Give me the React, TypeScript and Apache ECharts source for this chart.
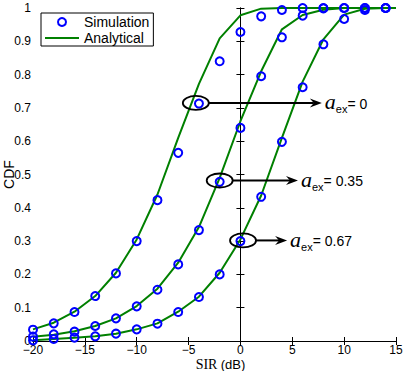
import React, { useEffect, useRef } from "react";
import * as echarts from "echarts";

const simX = [-20, -18, -16, -14, -12, -10, -8, -6, -4, -2, 0, 2, 4, 6, 8, 10, 12, 14];
const sim0 = [0.034, 0.053, 0.087, 0.135, 0.203, 0.3, 0.423, 0.565, 0.713, 0.84, 0.928, 0.975, 0.994, 1.0, 1.0, 1.0, 1.0, 1.0];
const sim1 = [0.013, 0.02, 0.028, 0.045, 0.068, 0.104, 0.154, 0.23, 0.333, 0.478, 0.64, 0.795, 0.912, 0.977, 0.999, 1.0, 1.0, 1.0];
const sim2 = [0.002, 0.006, 0.01, 0.014, 0.022, 0.035, 0.052, 0.087, 0.132, 0.2, 0.3, 0.433, 0.598, 0.762, 0.891, 0.967, 0.994, 1.0];

const lineX = [-20, -18, -16, -14, -12, -10, -8, -6, -4, -2, 0, 2, 4, 6, 8, 10, 12, 14, 15];
const ana0 = [0.035, 0.055, 0.088, 0.135, 0.205, 0.305, 0.44, 0.61, 0.772, 0.909, 0.978, 0.998, 1, 1, 1, 1, 1, 1, 1];
const ana1 = [0.013, 0.019, 0.029, 0.045, 0.068, 0.105, 0.157, 0.235, 0.342, 0.49, 0.66, 0.81, 0.936, 0.979, 0.995, 1, 1, 1, 1];
const ana2 = [0.002, 0.006, 0.01, 0.014, 0.022, 0.035, 0.053, 0.088, 0.133, 0.205, 0.305, 0.437, 0.61, 0.779, 0.906, 0.98, 0.998, 1, 1];

const annX = [-4.3, -2.0, 0.25];
const annY = [0.715, 0.482, 0.302];
const annEndX = [7.85, 5.55, 4.5];
const annLabels = ["0", "0.35", "0.67"];

const SANS = "Liberation Sans, Arial, sans-serif";
const SERIF = "Liberation Serif, Times New Roman, serif";

const pairs = (xs: number[], ys: number[]) => xs.map((x, i) => [x, ys[i]]);

export default function App() {
  const ref = useRef<HTMLDivElement>(null);
  useEffect(() => {
    document.body.style.margin = "0";
    const chart = echarts.init(ref.current!, null, { renderer: "svg" });
    const axisCommon = {
      axisLine: { lineStyle: { color: "#000", width: 1 } },
      axisTick: { inside: true, length: 4, lineStyle: { color: "#000" } },
      splitLine: { show: false },
    };
    const lineSeries = (d: number[]) => ({
      type: "line",
      name: "Analytical",
      data: pairs(lineX, d),
      symbol: "none",
      lineStyle: { color: "#008000", width: 2 },
      itemStyle: { color: "#008000" },
      z: 2,
    });
    const scatterSeries = (d: number[]) => ({
      type: "scatter",
      name: "Simulation",
      data: pairs(simX, d),
      symbol: "circle",
      symbolSize: 8,
      itemStyle: { color: "transparent", borderColor: "#0000ff", borderWidth: 2, opacity: 1 },
      z: 3,
    });
    const option: any = {
      animation: false,
      backgroundColor: "#fff",
      grid: { left: 33, right: 7, top: 8, bottom: 30, containLabel: false, outerBoundsMode: "none" },
      legend: {
        orient: "vertical",
        left: 41,
        top: 13,
        backgroundColor: "#fff",
        borderColor: "#000",
        borderWidth: 1,
        padding: [2, 4, 1, 3],
        itemWidth: 34,
        itemHeight: 8,
        itemGap: 2,
        textStyle: { fontFamily: SANS, fontSize: 14, color: "#000", lineHeight: 14 },
        data: [
          { name: "Simulation", icon: "circle", itemStyle: { color: "transparent", borderColor: "#0000ff", borderWidth: 2 } },
          { name: "Analytical", itemStyle: { opacity: 0 } },
        ],
      },
      xAxis: [
        {
          type: "value",
          min: -20,
          max: 15,
          interval: 5,
          ...axisCommon,
          axisLabel: {
            fontFamily: SANS,
            fontSize: 12,
            lineHeight: 12,
            color: "#000",
            margin: 3,
            formatter: (v: number) => (v < 0 ? "\u2212" + Math.abs(v) : String(v)),
          },
          name: "{s|SIR} {d|(dB)}",
          nameLocation: "middle",
          nameGap: 16,
          nameMoveOverlap: false,
          nameTextStyle: {
            padding: [0, 0, 0, 12],
            lineHeight: 14,
            rich: {
              s: { fontFamily: SERIF, fontSize: 14, lineHeight: 14, color: "#000" },
              d: { fontFamily: SANS, fontSize: 13, lineHeight: 14, color: "#000" },
            },
          },
        },
        {
          type: "value",
          position: "top",
          min: -20,
          max: 15,
          interval: 5,
          ...axisCommon,
          axisLabel: { show: false },
        },
      ],
      yAxis: [
        {
          type: "value",
          min: 0,
          max: 1,
          interval: 0.1,
          ...axisCommon,
          axisLabel: {
            fontFamily: SANS,
            fontSize: 12,
            color: "#000",
            margin: 2,
            formatter: (v: number) => String(+v.toFixed(1)),
          },
          name: "CDF",
          nameLocation: "middle",
          nameGap: 17,
          nameMoveOverlap: false,
          nameTextStyle: { fontFamily: SANS, fontSize: 14, lineHeight: 14, color: "#000" },
        },
        {
          type: "value",
          position: "right",
          min: 0,
          max: 1,
          interval: 0.1,
          ...axisCommon,
          axisLabel: { show: false },
        },
      ],
      series: [
        lineSeries(ana0),
        lineSeries(ana1),
        lineSeries(ana2),
        scatterSeries(sim0),
        scatterSeries(sim1),
        scatterSeries(sim2),
      ],
    };
    chart.setOption(option);

    const graphics: any[] = [];
    for (let i = 0; i < annX.length; i++) {
      const c = chart.convertToPixel({ xAxisIndex: 0, yAxisIndex: 0 }, [annX[i], annY[i]]) as number[];
      const e = chart.convertToPixel({ xAxisIndex: 0, yAxisIndex: 0 }, [annEndX[i], annY[i]]) as number[];
      const cx = c[0], cy = c[1], ex = e[0];
      const rx = 13, ry = 7;
      graphics.push({
        type: "ellipse",
        shape: { cx, cy, rx, ry },
        style: { fill: "none", stroke: "#000", lineWidth: 1.8 },
        z: 10,
      });
      graphics.push({
        type: "line",
        shape: { x1: cx + rx, y1: cy, x2: ex - 8, y2: cy },
        style: { stroke: "#000", lineWidth: 2 },
        z: 10,
      });
      graphics.push({
        type: "polygon",
        shape: { points: [[ex, cy], [ex - 12, cy - 4.5], [ex - 8, cy], [ex - 12, cy + 4.5]] },
        style: { fill: "#000" },
        z: 10,
      });
      graphics.push({
        type: "text",
        x: ex + 3,
        y: cy,
        style: {
          text: "{a|a}{s|ex}{e|= " + annLabels[i] + "}",
          verticalAlign: "middle",
          rich: {
            a: { fontFamily: SERIF, fontStyle: "italic", fontSize: 22, color: "#000", verticalAlign: "bottom", lineHeight: 20 },
            s: { fontFamily: SANS, fontSize: 11, color: "#000", verticalAlign: "bottom", lineHeight: 11, padding: [0, 0, -2, 0] },
            e: { fontFamily: SANS, fontSize: 14, color: "#000", verticalAlign: "bottom", lineHeight: 14, padding: [0, 0, 2, 0] },
          },
        },
        z: 10,
      });
    }
    chart.setOption({ graphic: graphics });

    return () => chart.dispose();
  }, []);
  return <div ref={ref} style={{ width: 403, height: 371 }} />;
}
